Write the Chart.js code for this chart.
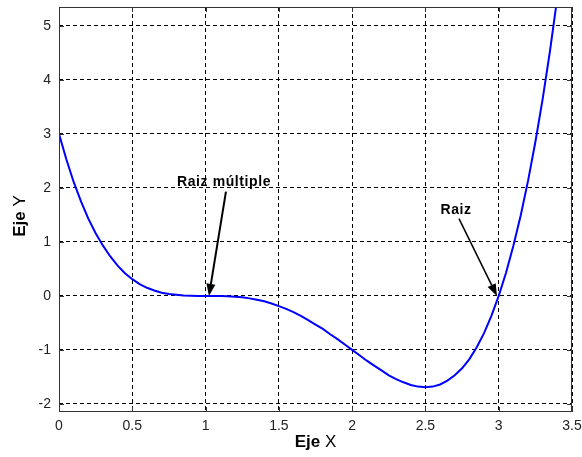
<!DOCTYPE html>
<html>
<head>
<meta charset="utf-8">
<script src="https://cdn.jsdelivr.net/npm/chart.js"></script>
<style>
  html, body { margin: 0; padding: 0; background: #fff; }
  #wrap { width: 582px; height: 457px; }
</style>
</head>
<body>
<div id="wrap"><canvas id="raizChart" width="582" height="457"></canvas></div>
<script>
// curve values
const xVals = [0, 0.05, 0.1, 0.15, 0.2, 0.25, 0.3, 0.35, 0.4, 0.45, 0.5, 0.55, 0.6, 0.65, 0.7, 0.75, 0.8, 0.85,
    0.9, 0.95, 1.0, 1.05, 1.1, 1.15, 1.2, 1.25, 1.3, 1.35, 1.4, 1.45, 1.5, 1.55, 1.6, 1.65, 1.7, 1.75,
    1.8, 1.85, 1.9, 1.95, 2.0, 2.05, 2.1, 2.15, 2.2, 2.25, 2.3, 2.35, 2.4, 2.45, 2.5, 2.55, 2.6, 2.65,
    2.7, 2.75, 2.8, 2.85, 2.9, 2.95, 3.0, 3.05, 3.1, 3.15, 3.2, 3.25, 3.3, 3.35, 3.4];
const yVals = [3.0, 2.53, 2.11, 1.75, 1.43, 1.16, 0.93, 0.73, 0.56, 0.42, 0.31, 0.22, 0.15, 0.1, 0.06, 0.035, 0.02, 0.007,
    0.002, 0.0, 0.0, 0.0, 0.0, -0.006, -0.014, -0.027, -0.046, -0.071, -0.1, -0.14, -0.19, -0.24, -0.3, -0.37, -0.45, -0.53,
    -0.61, -0.71, -0.8, -0.9, -1.0, -1.1, -1.2, -1.29, -1.38, -1.47, -1.54, -1.6, -1.65, -1.68, -1.69, -1.68, -1.64, -1.57,
    -1.47, -1.34, -1.17, -0.95, -0.69, -0.37, 0.0, 0.43, 0.93, 1.49, 2.13, 2.85, 3.65, 4.54, 5.53];
const xTicks = [0, 0.5, 1, 1.5, 2, 2.5, 3, 3.5];
const yTicks = [-2, -1, 0, 1, 2, 3, 4, 5];

// annotations: [label, textX, textY, arrowFromX, arrowFromY, arrowToX, arrowToY, lineWidth]
const notes = [
    ['Raiz múltiple', 1.126, 2.03, 1.139, 1.93, 1.023, 0, 2],
    ['Raiz', 2.709, 1.51, 2.729, 1.43, 2.988, 0, 1.5]
];

const FONT = '"Liberation Sans", Arial, sans-serif';

const matlabAxes = {
    id: 'matlabAxes',
    afterDatasetsDraw(chart) {
        const ctx = chart.ctx, a = chart.chartArea;
        const xs = chart.scales.x, ys = chart.scales.y;
        ctx.save();
        // box
        ctx.strokeStyle = '#333';
        ctx.lineWidth = 1;
        ctx.strokeRect(a.left + 0.5, a.top + 0.5, a.right - a.left - 1, a.bottom - a.top - 1);
        // inner tick marks
        ctx.beginPath();
        xTicks.forEach(v => {
            const px = Math.round(xs.getPixelForValue(v)) + 0.5;
            ctx.moveTo(px, a.bottom); ctx.lineTo(px, a.bottom - 5);
            ctx.moveTo(px, a.top); ctx.lineTo(px, a.top + 5);
        });
        yTicks.forEach(v => {
            const py = Math.round(ys.getPixelForValue(v)) + 0.5;
            ctx.moveTo(a.left, py); ctx.lineTo(a.left + 5, py);
            ctx.moveTo(a.right, py); ctx.lineTo(a.right - 5, py);
        });
        ctx.stroke();

        // annotations
        ctx.fillStyle = '#000';
        ctx.strokeStyle = '#000';
        notes.forEach(n => {
            ctx.font = 'bold 14px ' + FONT;
            ctx.letterSpacing = '0.6px';
            ctx.textAlign = 'center';
            ctx.textBaseline = 'alphabetic';
            ctx.fillText(n[0], xs.getPixelForValue(n[1]), ys.getPixelForValue(n[2]));
            ctx.letterSpacing = '0px';
            const x1 = xs.getPixelForValue(n[3]), y1 = ys.getPixelForValue(n[4]);
            const x2 = xs.getPixelForValue(n[5]), y2 = ys.getPixelForValue(n[6]);
            const ang = Math.atan2(y2 - y1, x2 - x1);
            const hl = 12, hw = 4.5;
            const bx = x2 - hl * Math.cos(ang), by = y2 - hl * Math.sin(ang);
            ctx.lineWidth = n[7];
            ctx.beginPath();
            ctx.moveTo(x1, y1); ctx.lineTo(bx, by);
            ctx.stroke();
            ctx.beginPath();
            ctx.moveTo(x2, y2);
            ctx.lineTo(bx + hw * Math.sin(ang), by - hw * Math.cos(ang));
            ctx.lineTo(bx - hw * Math.sin(ang), by + hw * Math.cos(ang));
            ctx.closePath();
            ctx.fill();
        });

        // axis titles: "Eje" bold, letter regular
        const title = (label, cx, cy, rot) => {
            ctx.save();
            ctx.translate(cx, cy);
            if (rot) ctx.rotate(-Math.PI / 2);
            ctx.textBaseline = 'middle';
            ctx.textAlign = 'left';
            ctx.font = 'bold 17px ' + FONT;
            const w1 = ctx.measureText('Eje ').width;
            ctx.font = '17px ' + FONT;
            const w2 = ctx.measureText(label).width;
            const start = -(w1 + w2) / 2;
            ctx.font = 'bold 17px ' + FONT;
            ctx.fillText('Eje ', start, 0);
            ctx.font = '17px ' + FONT;
            ctx.fillText(label, start + w1, 0);
            ctx.restore();
        };
        title('X', (a.left + a.right) / 2, 442, false);
        title('Y', 20, 216, true);
        ctx.restore();
    }
};

const points = xVals.map((x, i) => ({ x: x, y: yVals[i] }));

new Chart(document.getElementById('raizChart').getContext('2d'), {
    type: 'line',
    data: {
        datasets: [{
            data: points,
            borderColor: '#0000ff',
            borderWidth: 2,
            pointRadius: 0,
            tension: 0,
            fill: false
        }]
    },
    options: {
        responsive: false,
        animation: false,
        layout: { padding: { top: 7, right: 10, left: 0, bottom: 0 } },
        plugins: { legend: { display: false }, tooltip: { enabled: false } },
        scales: {
            x: {
                type: 'linear',
                min: 0,
                max: 3.5,
                afterBuildTicks: s => { s.ticks = xTicks.map(v => ({ value: v })); },
                afterFit: s => { s.height = 45; s.paddingLeft = 0; s.paddingRight = 0; },
                grid: { color: '#000', lineWidth: 1, drawTicks: false },
                border: { display: false, dash: [4, 3] },
                ticks: {
                    color: '#222',
                    padding: 6,
                    maxRotation: 0,
                    font: { family: FONT, size: 14 },
                    callback: v => String(v)
                }
            },
            y: {
                type: 'linear',
                min: -2.15,
                max: 5.35,
                afterBuildTicks: s => { s.ticks = yTicks.map(v => ({ value: v })); },
                afterFit: s => { s.width = 59; s.paddingTop = 0; s.paddingBottom = 0; },
                grid: { color: '#000', lineWidth: 1, drawTicks: false },
                border: { display: false, dash: [4, 3] },
                ticks: {
                    color: '#222',
                    padding: 8,
                    font: { family: FONT, size: 14 },
                    callback: v => String(v)
                }
            }
        }
    },
    plugins: [matlabAxes]
});
</script>
</body>
</html>
